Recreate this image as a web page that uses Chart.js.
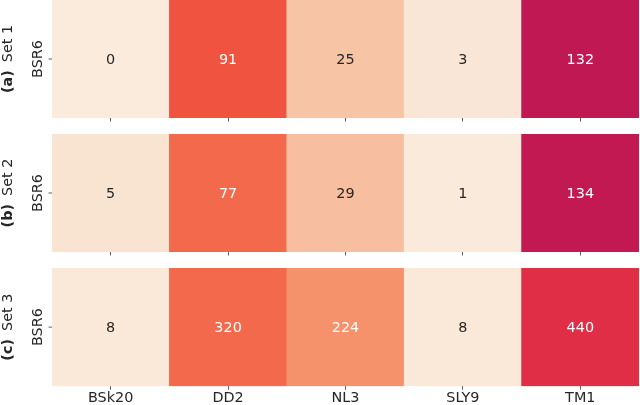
<!DOCTYPE html>
<html>
<head>
<meta charset="utf-8">
<script src="https://cdn.jsdelivr.net/npm/chart.js@4.4.0/dist/chart.umd.min.js"></script>
<style>
  html, body { margin: 0; padding: 0; background: #fff; overflow: hidden; }
  #wrap { position: relative; width: 640px; height: 405px; }
  .row { position: absolute; left: 0; width: 640px; }
</style>
</head>
<body>
<div id="wrap">
  <div class="row" style="top:0px;height:124px"><canvas id="c0"></canvas></div>
  <div class="row" style="top:134px;height:124px"><canvas id="c1"></canvas></div>
  <div class="row" style="top:268px;height:139px"><canvas id="c2"></canvas></div>
</div>
<script>
// data
const models = ['BSk20', 'DD2', 'NL3', 'SLY9', 'TM1'];
const rowLabel = 'BSR6';
const setTags = ['(a)', '(b)', '(c)'];
const setNames = ['Set 1', 'Set 2', 'Set 3'];
const set1 = [0, 91, 25, 3, 132];
const set2 = [5, 77, 29, 1, 134];
const set3 = [8, 320, 224, 8, 440];
const sets = [set1, set2, set3];

// colour scale (rocket_r-like), upper limit per panel
const scaleMax = [254, 264, 1100];
const stops = [
    [0.00, '#faebdd'], [0.10, '#f7c4a5'], [0.20, '#f5936c'], [0.30, '#f26648'],
    [0.36, '#f05340'], [0.40, '#e02e47'], [0.47, '#cb1b50'], [0.54, '#bc1754'],
    [1.00, '#03051a']
];
function hex2rgb(h) {
    return [1, 3, 5].map(i => parseInt(h.substr(i, 2), 16));
}
function cmap(t) {
    t = Math.max(0, Math.min(1, t));
    for (let i = 1; i < stops.length; i++) {
        if (t <= stops[i][0]) {
            const a = stops[i - 1], b = stops[i];
            const f = (t - a[0]) / (b[0] - a[0]);
            const ca = hex2rgb(a[1]), cb = hex2rgb(b[1]);
            return ca.map((v, k) => Math.round(v + (cb[k] - v) * f));
        }
    }
    return hex2rgb(stops[stops.length - 1][1]);
}
function lum(rgb) {
    const c = rgb.map(v => {
        v /= 255;
        return v <= 0.03928 ? v / 12.92 : Math.pow((v + 0.055) / 1.055, 2.4);
    });
    return 0.2126 * c[0] + 0.7152 * c[1] + 0.0722 * c[2];
}

const FONT = "'DejaVu Sans', sans-serif";
const FS = 14.4;

const cellText = {
    id: 'cellText',
    afterDatasetsDraw(chart, args, opts) {
        const ctx = chart.ctx;
        const vals = sets[opts.idx];
        const meta = chart.getDatasetMeta(0);
        const area = chart.chartArea;
        const yc = (area.top + area.bottom) / 2;
        ctx.save();
        ctx.font = FS + 'px ' + FONT;
        ctx.textAlign = 'center';
        ctx.textBaseline = 'middle';
        meta.data.forEach((bar, i) => {
            const rgb = cmap(vals[i] / scaleMax[opts.idx]);
            ctx.fillStyle = lum(rgb) > 0.408 ? '#262626' : '#ffffff';
            ctx.fillText(String(vals[i]), bar.x, yc + 1);
        });
        // left tick, row label and panel title
        ctx.strokeStyle = '#333';
        ctx.lineWidth = 0.8;
        ctx.beginPath();
        ctx.moveTo(area.left - 3.5, yc);
        ctx.lineTo(area.left, yc);
        ctx.stroke();
        ctx.fillStyle = '#262626';
        ctx.save();
        ctx.translate(38.5, yc);
        ctx.rotate(-Math.PI / 2);
        ctx.fillText(rowLabel, 0, 0);
        ctx.restore();
        ctx.save();
        ctx.translate(8.5, yc);
        ctx.rotate(-Math.PI / 2);
        ctx.textAlign = 'left';
        const gap = 8;
        ctx.font = 'bold ' + FS + 'px ' + FONT;
        const w1 = ctx.measureText(setTags[opts.idx]).width + gap;
        ctx.font = FS + 'px ' + FONT;
        const w2 = ctx.measureText(setNames[opts.idx]).width;
        const x0 = -(w1 + w2) / 2;
        ctx.font = 'bold ' + FS + 'px ' + FONT;
        ctx.fillText(setTags[opts.idx], x0, 0);
        ctx.font = FS + 'px ' + FONT;
        ctx.fillText(setNames[opts.idx], x0 + w1, 0);
        ctx.restore();
        ctx.restore();
    }
};

function makeChart(idx) {
    const vals = sets[idx];
    const last = idx === sets.length - 1;
    return new Chart(document.getElementById('c' + idx), {
        type: 'bar',
        data: {
            labels: models,
            datasets: [{
                data: vals.map(() => [0, 1]),
                backgroundColor: vals.map(v => 'rgb(' + cmap(v / scaleMax[idx]).join(',') + ')'),
                borderWidth: 0,
                categoryPercentage: 1,
                barPercentage: 1
            }]
        },
        options: {
            responsive: true,
            maintainAspectRatio: false,
            animation: false,
            layout: { padding: { left: 52, right: 1, top: 0, bottom: last ? 0 : 2.5 } },
            plugins: {
                legend: { display: false },
                tooltip: { enabled: false },
                cellText: { idx: idx }
            },
            scales: {
                x: {
                    grid: {
                        offset: false,
                        drawOnChartArea: false,
                        drawTicks: true,
                        tickLength: 3.5,
                        color: '#333',
                        lineWidth: 0.8
                    },
                    border: { display: false },
                    ticks: {
                        display: last,
                        padding: 0,
                        color: '#262626',
                        font: { family: FONT, size: FS }
                    }
                },
                y: { display: false, min: 0, max: 1 }
            }
        },
        plugins: [cellText]
    });
}

sets.forEach((s, i) => makeChart(i));
</script>
</body>
</html>
